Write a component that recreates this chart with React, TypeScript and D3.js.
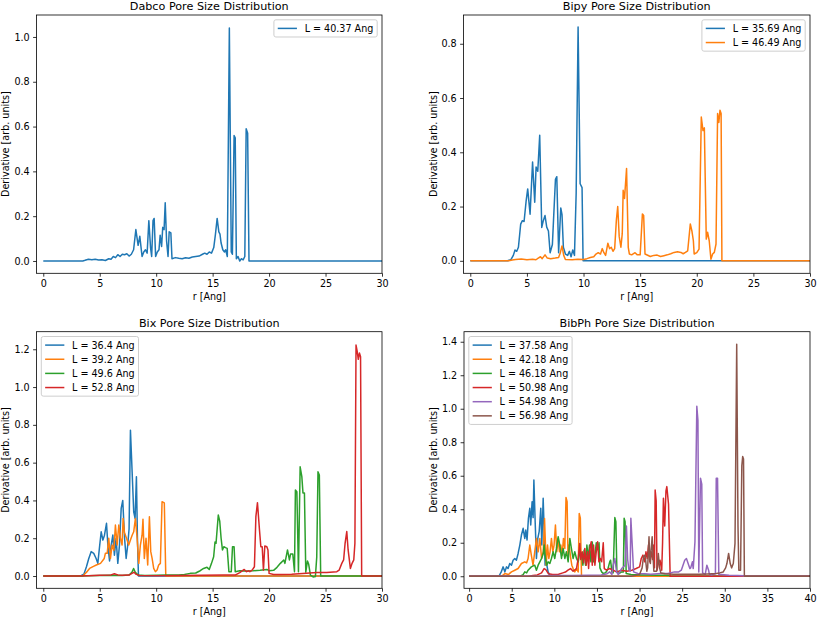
import React, { useEffect, useRef } from "react";
import * as d3 from "d3";

type Pt = [number, number];

// ---------- Data: [r (Ang), derivative] ----------
const dabcoL4037: Pt[] = [[0,0],[3.5,0],[3.7,0.003],[4.0,0.008],[4.3,0.006],[4.6,0.008],[4.9,0.004],[5.2,0.005],[5.5,0.002],[5.8,0.01],[6.0,0.008],[6.2,0.02],[6.4,0.015],[6.6,0.028],[6.8,0.02],[7.0,0.03],[7.2,0.028],[7.4,0.032],[7.6,0.022],[7.8,0.03],[8.0,0.05],[8.2,0.14],[8.4,0.07],[8.55,0.11],[8.75,0.02],[8.9,0.04],[9.05,0.05],[9.2,0.035],[9.35,0.18],[9.5,0.06],[9.6,0.02],[9.72,0.18],[9.82,0.19],[9.95,0.02],[10.1,0.04],[10.25,0.05],[10.35,0.115],[10.48,0.065],[10.58,0.15],[10.7,0.14],[10.8,0.26],[10.92,0.09],[11.05,0.02],[11.15,0.13],[11.3,0.125],[11.4,0.01],[11.7,0.015],[12.0,0.012],[12.3,0.01],[12.6,0.014],[12.9,0.012],[13.2,0.018],[13.5,0.02],[13.8,0.022],[14.1,0.03],[14.3,0.035],[14.5,0.03],[14.7,0.04],[14.9,0.035],[15.1,0.06],[15.25,0.12],[15.4,0.19],[15.55,0.13],[15.65,0.12],[15.75,0.08],[15.9,0.05],[16.05,0.04],[16.15,0.05],[16.3,0.02],[16.48,1.04],[16.65,0.04],[16.75,0.03],[16.9,0.56],[17.0,0.55],[17.1,0.01],[17.25,0.02],[17.4,0.0],[17.55,0.01],[17.7,0.005],[17.85,0.02],[17.97,0.59],[18.1,0.57],[18.22,0],[30,0]];

const bipyL3569: Pt[] = [[0,0],[3.3,0],[3.6,0.005],[3.8,0.02],[3.95,0.04],[4.1,0.035],[4.25,0.05],[4.45,0.135],[4.6,0.148],[4.75,0.145],[4.93,0.22],[5.07,0.265],[5.28,0.172],[5.5,0.364],[5.69,0.216],[5.81,0.346],[5.96,0.33],[6.13,0.463],[6.31,0.123],[6.45,0.148],[6.6,0.167],[6.75,0.124],[6.9,0.11],[7.05,0.03],[7.25,0.06],[7.35,0.15],[7.52,0.3],[7.64,0.31],[7.8,0.03],[7.99,0.195],[8.1,0.17],[8.22,0.05],[8.4,0.025],[8.6,0.02],[8.75,0.035],[8.9,0.015],[9.05,0.04],[9.2,0.02],[9.35,0.25],[9.52,0.862],[9.7,0.284],[9.87,0.27],[9.96,0],[30,0]];

const bipyL4649: Pt[] = [[0,0],[3.4,0],[3.7,0.003],[4.0,0.005],[4.5,0.007],[5.0,0.004],[5.5,0.006],[5.8,0.004],[6.0,0.01],[6.2,0.015],[6.35,0.008],[6.6,0.022],[6.8,0.01],[7.1,0.008],[7.5,0.01],[7.8,0.012],[7.95,0.03],[8.1,0.055],[8.25,0.02],[8.4,0.005],[9.0,0.004],[9.5,0.006],[10.0,0.005],[10.3,0.008],[10.6,0.012],[10.9,0.015],[11.1,0.025],[11.3,0.03],[11.5,0.025],[11.65,0.045],[11.8,0.03],[11.95,0.02],[12.15,0.065],[12.3,0.045],[12.45,0.05],[12.6,0.035],[12.75,0.045],[12.9,0.15],[13.02,0.2],[13.15,0.09],[13.3,0.05],[13.42,0.1],[13.5,0.26],[13.62,0.23],[13.8,0.34],[13.95,0.05],[14.05,0.025],[14.25,0.022],[14.55,0.03],[14.75,0.022],[15.0,0.022],[15.2,0.173],[15.31,0.167],[15.43,0.025],[15.9,0.016],[16.2,0.02],[16.5,0.021],[16.8,0.016],[17.1,0.019],[17.4,0.022],[17.7,0.026],[18.0,0.031],[18.3,0.033],[18.6,0.031],[18.8,0.026],[19.0,0.031],[19.2,0.037],[19.43,0.136],[19.57,0.11],[19.7,0.074],[19.77,0.025],[20.0,0.03],[20.2,0.043],[20.4,0.53],[20.55,0.48],[20.67,0.49],[20.84,0.08],[20.96,0.105],[21.1,0.074],[21.25,0.006],[21.4,0.025],[21.55,0.031],[21.7,0.062],[21.84,0.543],[21.95,0.51],[22.05,0.555],[22.15,0.543],[22.22,0],[30,0]];

const bixL364: Pt[] = [[0,0],[3.3,0],[3.6,0.01],[3.83,0.05],[4.03,0.093],[4.24,0.129],[4.47,0.12],[4.68,0.093],[4.83,0.067],[5.0,0.164],[5.13,0.234],[5.28,0.19],[5.42,0.216],[5.6,0.279],[5.72,0.164],[5.87,0.08],[6.0,0.157],[6.16,0.217],[6.3,0.11],[6.45,0.2],[6.6,0.067],[6.75,0.164],[6.9,0.358],[7.04,0.4],[7.2,0.2],[7.34,0.093],[7.48,0.164],[7.6,0.25],[7.72,0.772],[7.87,0.55],[8.01,0.34],[8.13,0.305],[8.25,0.525],[8.34,0.2],[8.43,0],[30,0]];

const bixL392: Pt[] = [[0,0],[3.5,0],[3.83,0.02],[4.1,0.04],[4.4,0.05],[4.7,0.058],[5.07,0.067],[5.4,0.093],[5.5,0.12],[5.66,0.12],[5.8,0.2],[5.95,0.093],[6.1,0.164],[6.25,0.136],[6.39,0.27],[6.54,0.164],[6.69,0.27],[6.83,0.2],[6.98,0.164],[7.07,0.305],[7.19,0.23],[7.37,0.2],[7.57,0.164],[7.72,0.19],[7.87,0.216],[8.01,0.234],[8.16,0.305],[8.31,0.2],[8.46,0.067],[8.6,0.164],[8.75,0.216],[8.83,0.3],[8.95,0.093],[9.1,0.2],[9.25,0.058],[9.4,0.314],[9.52,0.129],[9.64,0.093],[9.78,0.04],[9.93,0.023],[10.08,0.032],[10.22,0.058],[10.37,0.067],[10.52,0.393],[10.72,0.387],[10.85,0],[30,0]];

const bixL496: Pt[] = [[0,0],[3.5,0],[4.0,0.002],[5.0,0.003],[6.0,0.004],[7.0,0.003],[7.6,0.005],[7.85,0.02],[8.0,0.04],[8.15,0.02],[8.4,0.005],[9.0,0.003],[10.0,0.004],[11.0,0.005],[12.0,0.006],[12.5,0.008],[13.02,0.014],[13.5,0.016],[13.9,0.028],[14.2,0.04],[14.5,0.046],[14.7,0.035],[14.9,0.067],[15.09,0.102],[15.21,0.18],[15.3,0.173],[15.5,0.323],[15.63,0.29],[15.75,0.2],[15.87,0.138],[15.99,0.155],[16.14,0.15],[16.29,0.146],[16.44,0.023],[16.65,0.023],[16.76,0.155],[16.9,0.155],[17.0,0.023],[17.4,0.028],[18.0,0.026],[18.6,0.028],[19.2,0.031],[19.8,0.035],[20.0,0.028],[20.4,0.03],[20.7,0.046],[21.0,0.067],[21.3,0.085],[21.4,0.067],[21.63,0.138],[21.8,0.085],[21.9,0.116],[22.1,0.116],[22.25,0.023],[22.33,0.455],[22.46,0.446],[22.6,0.023],[22.75,0.578],[22.9,0.526],[23.0,0.44],[23.13,0.44],[23.25,0.02],[23.4,0.08],[23.5,0.064],[23.66,0.005],[23.9,-0.005],[24.1,-0.003],[24.22,0.1],[24.33,0.552],[24.45,0.535],[24.57,0],[30,0]];

const bixL528: Pt[] = [[0,0],[3.0,0],[4.0,0.002],[5.0,0.004],[6.0,0.006],[6.3,0.012],[6.6,0.006],[7.0,0.004],[7.6,0.005],[7.9,0.015],[8.05,0.02],[8.2,0.01],[8.5,0.003],[10.0,0.002],[12.0,0.003],[14.0,0.004],[16.0,0.005],[17.0,0.005],[17.4,0.018],[17.8,0.035],[18.0,0.023],[18.2,0.028],[18.3,0.023],[18.5,0.031],[18.7,0.049],[18.83,0.314],[18.97,0.388],[19.15,0.243],[19.27,0.155],[19.39,0.155],[19.5,0.031],[19.62,0.159],[19.8,0.155],[19.9,0.138],[20.0,0.014],[20.4,0.008],[21.0,0.008],[22.0,0.009],[23.3,0.014],[24.2,0.018],[25.1,0.018],[26.0,0.023],[26.2,0.031],[26.44,0.067],[26.6,0.085],[26.73,0.173],[26.88,0.235],[27.0,0.138],[27.2,0.04],[27.35,0.067],[27.5,0.085],[27.6,0.173],[27.7,1.222],[27.8,1.19],[27.9,1.147],[28.0,1.18],[28.1,1.16],[28.2,0],[30,0]];

const bibphL3758: Pt[] = [[0,0],[3.5,0],[3.77,0.026],[3.99,0.056],[4.2,0.026],[4.38,0.056],[4.57,0.046],[4.77,0.076],[4.97,0.066],[5.16,0.096],[5.36,0.106],[5.55,0.096],[5.75,0.136],[5.95,0.186],[6.14,0.246],[6.34,0.286],[6.53,0.226],[6.65,0.276],[6.8,0.216],[6.96,0.346],[7.12,0.406],[7.23,0.306],[7.39,0.445],[7.51,0.35],[7.6,0.575],[7.75,0.326],[7.9,0.106],[8.06,0.226],[8.22,0.266],[8.41,0.406],[8.53,0.186],[8.69,0.465],[8.8,0.286],[8.92,0.066],[9.07,0.08],[9.27,0.026],[9.47,0.005],[9.8,0],[40,0]];

const bibphL4218: Pt[] = [[0,0],[3.8,0],[4.2,0.016],[4.6,0.01],[4.97,0.026],[5.36,0.036],[5.75,0.046],[6.14,0.076],[6.53,0.086],[6.75,0.08],[6.92,0.106],[7.12,0.186],[7.3,0.126],[7.5,0.066],[7.7,0.146],[7.9,0.226],[8.1,0.146],[8.3,0.226],[8.5,0.106],[8.7,0.146],[8.85,0.345],[9.04,0.066],[9.2,0.186],[9.35,0.106],[9.5,0.146],[9.66,0.226],[9.82,0.146],[9.97,0.186],[10.13,0.306],[10.29,0.146],[10.45,0.226],[10.6,0.146],[10.76,0.186],[10.92,0.126],[11.07,0.226],[11.23,0.166],[11.37,0.47],[11.5,0.445],[11.6,0.126],[11.74,0.186],[11.9,0.116],[12.05,0.066],[12.2,0.046],[12.4,0.026],[12.6,0.046],[12.8,0.026],[12.92,0.375],[13.05,0.346],[13.19,0],[40,0]];

const bibphL4618: Pt[] = [[0,0],[6.0,0],[6.34,0.01],[6.53,0.026],[6.75,0.02],[6.92,0.036],[7.3,0.056],[7.7,0.066],[7.9,0.036],[8.1,0.066],[8.3,0.086],[8.5,0.106],[8.7,0.136],[8.8,0.186],[8.96,0.106],[9.12,0.066],[9.27,0.086],[9.47,0.076],[9.66,0.106],[9.86,0.146],[10.05,0.106],[10.25,0.166],[10.45,0.236],[10.64,0.186],[10.84,0.106],[11.03,0.166],[11.23,0.106],[11.42,0.146],[11.62,0.086],[11.82,0.226],[12.0,0.166],[12.2,0.106],[12.4,0.146],[12.6,0.106],[12.8,0.086],[12.99,0.146],[13.19,0.136],[13.35,0.066],[13.5,0.156],[13.66,0.066],[13.82,0.186],[13.98,0.106],[14.13,0.186],[14.29,0.086],[14.45,0.205],[14.6,0.086],[14.76,0.12],[14.92,0.2],[15.1,0.16],[15.25,0.2],[15.35,0.05],[15.55,0.026],[15.74,0.016],[15.94,0.02],[16.1,0.026],[16.3,0.046],[16.5,0.086],[16.6,0.096],[16.75,0.026],[16.9,0.02],[17.1,0.35],[17.22,0.326],[17.34,0.026],[17.58,0.016],[17.9,0.026],[18.1,0.026],[18.19,0.346],[18.3,0.326],[18.43,0.016],[19.0,0.01],[20.0,0.008],[21.0,0.007],[22.0,0.006],[23.0,0.006],[23.5,0.005],[23.6,0],[40,0]];

const bibphL5098: Pt[] = [[0,0],[7.0,0],[7.5,0.005],[8.0,0.008],[8.5,0.02],[8.8,0.046],[9.0,0.04],[9.3,0.015],[9.8,0.01],[10.5,0.012],[11.0,0.02],[11.3,0.025],[11.6,0.036],[11.9,0.046],[12.2,0.03],[12.6,0.046],[12.8,0.106],[12.99,0.196],[13.1,0.1],[13.27,0.146],[13.43,0.08],[13.58,0.166],[13.74,0.066],[13.9,0.146],[14.02,0.046],[14.17,0.166],[14.33,0.206],[14.45,0.066],[14.6,0.186],[14.76,0.066],[14.92,0.146],[15.08,0.206],[15.23,0.086],[15.39,0.106],[15.55,0.086],[15.74,0.2],[15.86,0.046],[16.13,0.036],[16.5,0.046],[16.9,0.036],[17.3,0.026],[17.9,0.036],[18.5,0.03],[19.1,0.036],[19.6,0.046],[20.0,0.056],[20.2,0.106],[20.4,0.126],[20.6,0.086],[20.75,0.146],[20.9,0.106],[21.05,0.186],[21.2,0.086],[21.36,0.146],[21.52,0.1],[21.67,0.186],[21.75,0.05],[21.83,0.515],[21.95,0.45],[22.05,0.036],[22.2,0.076],[22.4,0.096],[22.6,0.036],[22.7,0.2],[22.8,0.466],[22.95,0.3],[23.1,0.51],[23.2,0.535],[23.4,0.43],[23.59,0],[40,0]];

const bibphL5498: Pt[] = [[0,0],[8.0,0],[9.0,0.003],[10.0,0.004],[12.0,0.005],[14.0,0.006],[15.5,0.008],[16.2,0.015],[16.5,0.026],[16.75,0.01],[16.9,0.066],[17.1,0.106],[17.3,0.026],[17.5,0.01],[17.9,0.046],[18.3,0.066],[18.46,0.3],[18.6,0.1],[18.75,0.04],[18.9,0.03],[18.98,0.346],[19.1,0.226],[19.3,0.026],[19.8,0.016],[20.6,0.015],[21.3,0.012],[22.5,0.016],[23.3,0.016],[24.1,0.026],[24.6,0.026],[24.9,0.036],[25.1,0.066],[25.3,0.096],[25.5,0.106],[25.7,0.076],[25.9,0.046],[26.0,0.05],[26.2,0.086],[26.3,0.046],[26.5,0.206],[26.72,1.015],[26.85,0.93],[26.95,0.026],[27.15,0.585],[27.3,0.55],[27.4,0.02],[27.7,0.01],[27.9,0.066],[28.1,0.036],[28.2,0.01],[28.5,0.008],[28.9,0.015],[29.0,0.585],[29.15,0.585],[29.3,0.01],[29.6,0.01],[30.5,0.006],[31.5,0.005],[32.2,0.003],[32.3,0],[40,0]];

const bibphL5698: Pt[] = [[0,0],[19.0,0],[19.5,0.005],[20.0,0.01],[20.3,0.05],[20.46,0.116],[20.65,0.126],[20.85,0.03],[20.95,0.05],[21.11,0.236],[21.2,0.1],[21.27,0.076],[21.35,0.15],[21.48,0.236],[21.6,0.1],[21.68,0.03],[22.0,0.03],[22.1,0.08],[22.2,0.136],[22.35,0.05],[22.5,0.02],[23.0,0.015],[24.0,0.012],[25.0,0.012],[26.0,0.012],[27.0,0.012],[28.0,0.014],[29.0,0.016],[29.4,0.02],[29.8,0.025],[30.1,0.05],[30.25,0.076],[30.45,0.136],[30.64,0.076],[30.8,0.05],[31.0,0.076],[31.2,0.196],[31.4,1.385],[31.55,0.3],[31.65,0.036],[31.85,0.036],[32.0,0.66],[32.1,0.715],[32.2,0.7],[32.3,0],[40,0]];

const titles = ["Dabco Pore Size Distribution", "Bipy Pore Size Distribution", "Bix Pore Size Distribution", "BibPh Pore Size Distribution"];
const dabcoLabels = ["L = 40.37 Ang"];
const bipyLabels = ["L = 35.69 Ang", "L = 46.49 Ang"];
const bixLabels = ["L = 36.4 Ang", "L = 39.2 Ang", "L = 49.6 Ang", "L = 52.8 Ang"];
const bibphLabels = ["L = 37.58 Ang", "L = 42.18 Ang", "L = 46.18 Ang", "L = 50.98 Ang", "L = 54.98 Ang", "L = 56.98 Ang"];
const xTicks30 = [0, 5, 10, 15, 20, 25, 30];
const xTicks40 = [0, 5, 10, 15, 20, 25, 30, 35, 40];
const yTicksDabco = [0, 0.2, 0.4, 0.6, 0.8, 1.0];
const yTicksBipy = [0, 0.2, 0.4, 0.6, 0.8];
const yTicksBix = [0, 0.2, 0.4, 0.6, 0.8, 1.0, 1.2];
const yTicksBibph = [0, 0.2, 0.4, 0.6, 0.8, 1.0, 1.2, 1.4];
const xLabel = "r [Ang]";
const yLabel = "Derivative [arb. units]";

const COLORS = ["#1f77b4", "#ff7f0e", "#2ca02c", "#d62728", "#9467bd", "#8c564b"];
const FONT = "'DejaVu Sans', sans-serif";

const panels = [
  { title: titles[0], box: [36.5, 15, 382, 273.3], xDomain: [-0.6, 30], yDomain: [-0.055, 1.098], xTicks: xTicks30, yTicks: yTicksDabco, data: [dabcoL4037], labels: dabcoLabels, legend: "right", ylabX: 9 },
  { title: titles[1], box: [463.5, 15, 810, 273.3], xDomain: [-0.6, 30], yDomain: [-0.046, 0.906], xTicks: xTicks30, yTicks: yTicksBipy, data: [bipyL3569, bipyL4649], labels: bipyLabels, legend: "right", ylabX: 437 },
  { title: titles[2], box: [36.5, 331.7, 382, 588.3], xDomain: [-0.6, 30], yDomain: [-0.065, 1.293], xTicks: xTicks30, yTicks: yTicksBix, data: [bixL364, bixL392, bixL496, bixL528], labels: bixLabels, legend: "left", ylabX: 9 },
  { title: titles[3], box: [464, 331.7, 810, 588.3], xDomain: [-0.6, 40], yDomain: [-0.072, 1.46], xTicks: xTicks40, yTicks: yTicksBibph, data: [bibphL3758, bibphL4218, bibphL4618, bibphL5098, bibphL5498, bibphL5698], labels: bibphLabels, legend: "left", ylabX: 437 },
];

export default function App() {
  const ref = useRef<SVGSVGElement>(null);
  useEffect(() => {
    const svg = d3.select(ref.current);
    svg.selectAll("*").remove();
    const fs = 9.6;
    panels.forEach((p, pi) => {
      const [l, t, r, b] = p.box;
      const x = d3.scaleLinear().domain(p.xDomain).range([l, r]);
      const y = d3.scaleLinear().domain(p.yDomain).range([b, t]);
      const g = svg.append("g");
      const clipId = `clip${pi}`;
      g.append("clipPath").attr("id", clipId).append("rect")
        .attr("x", l).attr("y", t).attr("width", r - l).attr("height", b - t);
      const line = d3.line<Pt>().x((d) => x(d[0])).y((d) => y(d[1]));
      p.data.forEach((s, i) => {
        g.append("path").attr("d", line(s) || "")
          .attr("fill", "none").attr("stroke", COLORS[i]).attr("stroke-width", 1.5)
          .attr("stroke-linejoin", "round").attr("stroke-linecap", "butt")
          .attr("clip-path", `url(#${clipId})`);
      });
      g.append("rect").attr("x", l).attr("y", t).attr("width", r - l).attr("height", b - t)
        .attr("fill", "none").attr("stroke", "black").attr("stroke-width", 0.8);

      const gx = g.append("g").attr("transform", `translate(0,${b})`)
        .call(d3.axisBottom(x).tickValues(p.xTicks).tickSize(3.4).tickPadding(3.4).tickFormat(d3.format("d")));
      gx.select(".domain").remove();
      gx.attr("font-size", fs).attr("font-family", FONT);
      gx.selectAll("line").attr("stroke", "black").attr("stroke-width", 0.8);
      gx.selectAll("text").attr("fill", "black");

      const gy = g.append("g").attr("transform", `translate(${l},0)`)
        .call(d3.axisLeft(y).tickValues(p.yTicks).tickSize(3.4).tickPadding(3.4).tickFormat(d3.format(".1f")));
      gy.select(".domain").remove();
      gy.attr("font-size", fs).attr("font-family", FONT);
      gy.selectAll("line").attr("stroke", "black").attr("stroke-width", 0.8);
      gy.selectAll("text").attr("fill", "black");

      g.append("text").attr("x", (l + r) / 2).attr("y", t - 4.6).attr("text-anchor", "middle")
        .attr("font-family", FONT).attr("font-size", 11.2).attr("fill", "black").text(p.title);
      g.append("text").attr("x", (l + r) / 2).attr("y", b + 27).attr("text-anchor", "middle")
        .attr("font-family", FONT).attr("font-size", fs).attr("fill", "black").text(xLabel);
      g.append("text").attr("transform", `translate(${p.ylabX},${(t + b) / 2}) rotate(-90)`).attr("text-anchor", "middle")
        .attr("font-family", FONT).attr("font-size", fs).attr("fill", "black").text(yLabel);

      // legend
      const lg = g.append("g");
      const n = p.labels.length;
      const rowH = 14.15;
      const pad = 3.84;
      const handle = 19.2;
      const hpad = 7.68;
      const texts = p.labels.map((lab) =>
        lg.append("text").attr("font-family", FONT).attr("font-size", fs).attr("fill", "black").text(lab)
      );
      const tw = Math.max(...texts.map((tx) => (tx.node() as SVGTextElement).getComputedTextLength()));
      const w = pad * 2 + handle + hpad + tw;
      const h = 8.6 * 2 + (n - 1) * rowH;
      const bx = p.legend === "right" ? r - 4.8 - w : l + 4.8;
      const by = t + 4.8;
      lg.insert("rect", "text").attr("x", bx).attr("y", by).attr("width", w).attr("height", h)
        .attr("rx", 2).attr("fill", "white").attr("fill-opacity", 0.8)
        .attr("stroke", "#cccccc").attr("stroke-width", 0.96);
      p.labels.forEach((_, i) => {
        const cy = by + 8.6 + i * rowH;
        lg.append("line").attr("x1", bx + pad).attr("x2", bx + pad + handle).attr("y1", cy).attr("y2", cy)
          .attr("stroke", COLORS[i]).attr("stroke-width", 1.5);
        texts[i].attr("x", bx + pad + handle + hpad).attr("y", cy + 3.5);
      });
    });
  }, []);
  return (
    <svg ref={ref} width={817} height={619}
      style={{ position: "absolute", left: 0, top: 0, background: "white" }} />
  );
}
